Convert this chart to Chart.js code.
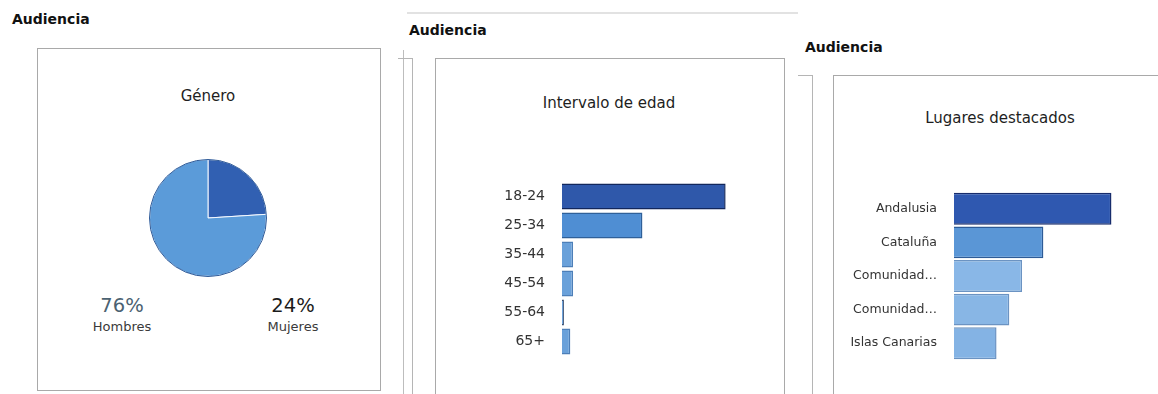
<!DOCTYPE html>
<html lang="es">
<head>
<meta charset="utf-8">
<title>Audiencia</title>
<script src="https://cdn.jsdelivr.net/npm/chart.js@4.4.1/dist/chart.umd.min.js"></script>
<style>
  html, body { margin: 0; padding: 0; background: #fff; }
  body { width: 1158px; height: 394px; position: relative; overflow: hidden;
         font-family: "DejaVu Sans", Verdana, sans-serif; color: #222; }
  .abs { position: absolute; }
  .heading { font-weight: 700; font-size: 14px; color: #111; }
  .card { border: 1px solid #a9a9a9; background: #fff; box-sizing: border-box; }
  .edge { border-right: 1px solid #b5b5b5; border-top: 1px solid #b5b5b5; box-sizing: border-box; }
  .vline { border-left: 1px solid #bdbdbd; }
  .title { font-size: 15px; color: #1e1e1e; text-align: center; }
  .pct { font-size: 19.5px; text-align: center; width: 90px; }
  .cap { font-size: 13px; color: #3a3a3a; text-align: center; width: 90px; }
  canvas { position: absolute; }
</style>
</head>
<body>
<!-- Panel 1: Género -->
<div class="abs heading" style="left:12px; top:11px;">Audiencia</div>
<div class="abs card" style="left:37px; top:48px; width:344px; height:343px;"></div>
<div class="abs title" style="left:37px; top:87px; width:342px;">Género</div>
<canvas id="pie" width="122" height="122" style="left:147px; top:157px; width:122px; height:122px;"></canvas>
<div class="abs pct" id="pctA" style="left:77px; top:294px; color:#4b6272;"></div>
<div class="abs cap" id="capA" style="left:77px; top:319px;"></div>
<div class="abs pct" id="pctB" style="left:248px; top:294px; color:#1c1c1c;"></div>
<div class="abs cap" id="capB" style="left:248px; top:319px;"></div>

<!-- Panel 2: Intervalo de edad -->
<div class="abs" style="left:407px; top:12px; width:391px; height:2px; background:#e2e2e2;"></div>
<div class="abs heading" style="left:409px; top:22px;">Audiencia</div>
<div class="abs vline" style="left:403px; top:50px; width:0; height:344px;"></div>
<div class="abs edge" style="left:398px; top:58px; width:15px; height:340px;"></div>
<div class="abs card" style="left:435px; top:58px; width:350px; height:345px;"></div>
<div class="abs title" style="left:435px; top:94px; width:348px;">Intervalo de edad</div>
<canvas id="age" width="300" height="174" style="left:470px; top:182px; width:300px; height:174px;"></canvas>

<!-- Panel 3: Lugares destacados -->
<div class="abs heading" style="left:805px; top:39px;">Audiencia</div>
<div class="abs edge" style="left:798px; top:75px; width:15px; height:330px;"></div>
<div class="abs card" style="left:833px; top:75px; width:340px; height:330px;"></div>
<div class="abs title" style="left:833px; top:109px; width:334px;">Lugares destacados</div>
<canvas id="places" width="316" height="168" style="left:838px; top:192px; width:316px; height:168px;"></canvas>

<script>
// Género
const genderLabels = ["Mujeres", "Hombres"];
const genderValues = [24, 76];
const genderColors = ["#3160b2", "#5b9bd9"];

// Intervalo de edad (%)
const ageLabels = ["18-24", "25-34", "35-44", "45-54", "55-64", "65+"];
const ageValues = [59, 29, 4, 4, 0.7, 3];
const ageFill = ["#2f58aa", "#4f8ed3", "#6aa1da", "#6aa1da", "#6aa1da", "#6aa1da"];
const ageBorder = ["#12275c", "#2f6099", "#4d7fb8", "#4d7fb8", "#3a4f70", "#4d7fb8"];

// Lugares destacados (%)
const placeLabels = ["Andalusia", "Cataluña", "Comunidad…", "Comunidad…", "Islas Canarias"];
const placeValues = [37, 21, 16, 13, 10];
const placeFill = ["#2f58b0", "#5a96d6", "#89b7e7", "#88b6e5", "#84b3e4"];
const placeBorder = ["#172c6c", "#2d5b97", "#6b93c2", "#6b93c2", "#6b93c2"];

const FONT = "'DejaVu Sans', Verdana, sans-serif";

// percentage captions under the pie
document.getElementById("pctA").textContent = genderValues[1] + "%";
document.getElementById("capA").textContent = genderLabels[1];
document.getElementById("pctB").textContent = genderValues[0] + "%";
document.getElementById("capB").textContent = genderLabels[0];

new Chart(document.getElementById("pie"), {
  type: "pie",
  data: {
    labels: genderLabels,
    datasets: [{
      data: genderValues,
      backgroundColor: genderColors,
      borderColor: ["#f4f8ff", "#f4f8ff"],
      borderWidth: 1
    }]
  },
  options: {
    responsive: false,
    maintainAspectRatio: false,
    animation: false,
    layout: { padding: 2 },
    plugins: { legend: { display: false }, tooltip: { enabled: false } }
  },
  plugins: [{
    id: "rimOutline",
    afterDatasetsDraw(chart) {
      const arc = chart.getDatasetMeta(0).data[0];
      const ctx = chart.ctx;
      ctx.save();
      ctx.beginPath();
      ctx.arc(arc.x, arc.y, arc.outerRadius, 0, Math.PI * 2);
      ctx.strokeStyle = "#2f5a97";
      ctx.lineWidth = 1;
      ctx.stroke();
      ctx.restore();
    }
  }]
});

function hbar(id, labels, values, fill, border, maxX, barPct, labelFont, yWidth) {
  return new Chart(document.getElementById(id), {
    type: "bar",
    data: {
      labels: labels,
      datasets: [{
        data: values,
        backgroundColor: fill,
        borderColor: border,
        borderWidth: 1.5,
        barPercentage: barPct,
        categoryPercentage: 1
      }]
    },
    options: {
      indexAxis: "y",
      responsive: false,
      maintainAspectRatio: false,
      animation: false,
      layout: { padding: 0 },
      plugins: { legend: { display: false }, tooltip: { enabled: false } },
      scales: {
        x: {
          display: false,
          min: 0,
          max: maxX
        },
        y: {
          grid: { display: false, drawTicks: false },
          border: { display: false },
          ticks: { color: "#333", font: { family: FONT, size: labelFont }, padding: 17 },
          afterFit(scale) {
            // fixed label column; the bands fill the full canvas height
            scale.width = yWidth;
            scale.paddingTop = 0;
            scale.paddingBottom = 0;
          }
        }
      }
    }
  });
}

hbar("age", ageLabels, ageValues, ageFill, ageBorder, 75, 0.9, 14, 92);
hbar("places", placeLabels, placeValues, placeFill, placeBorder, 47, 0.95, 12.5, 116);
</script>
</body>
</html>
